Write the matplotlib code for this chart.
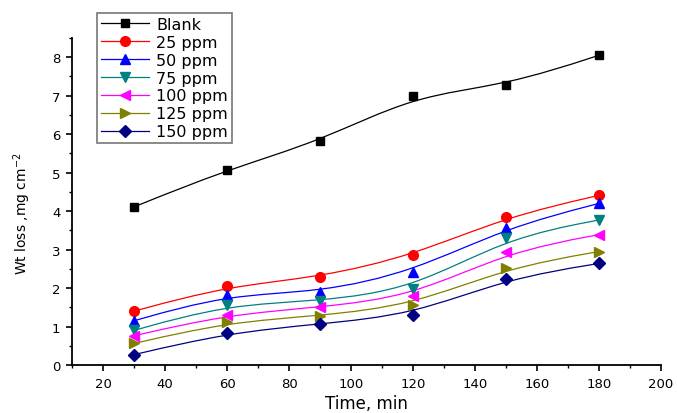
import numpy as np
import matplotlib
matplotlib.use('Agg')
import matplotlib.pyplot as plt
from matplotlib.path import Path
from matplotlib.patches import PathPatch
from matplotlib.lines import Line2D
from matplotlib.ticker import MultipleLocator

plt.rcParams['font.family'] = ['DejaVu Sans']

time = [30, 60, 90, 120, 150, 180]
blank = [4.11, 5.08, 5.81, 7.00, 7.27, 8.05]
ppm25 = [1.40, 2.05, 2.28, 2.85, 3.85, 4.41]
ppm50 = [1.15, 1.83, 1.89, 2.43, 3.57, 4.20]
ppm75 = [0.90, 1.57, 1.66, 1.98, 3.30, 3.77]
ppm100 = [0.76, 1.31, 1.50, 1.79, 2.93, 3.39]
ppm125 = [0.56, 1.11, 1.28, 1.56, 2.52, 2.95]
ppm150 = [0.27, 0.83, 1.07, 1.31, 2.24, 2.64]

labels = ['Blank', '25 ppm', '50 ppm', '75 ppm', '100 ppm', '125 ppm', '150 ppm']
series = [blank, ppm25, ppm50, ppm75, ppm100, ppm125, ppm150]
colors = ['black', 'red', 'blue', '#008080', 'magenta', '#808000', '#000080']
markers = ['s', 'o', '^', 'v', '<', '>', 'D']
msizes = [6, 7, 7.5, 7.5, 7.5, 7.5, 6]


def bspline_path(x, y):
    # clamped uniform cubic B-spline drawn as bezier segments (like Origin's B-spline connect)
    pts = [(x[0], y[0])] * 2 + list(zip(x, y)) + [(x[-1], y[-1])] * 2
    pts = np.array(pts, dtype=float)
    verts, codes = [], []
    for j in range(len(pts) - 3):
        q0, q1, q2, q3 = pts[j:j + 4]
        b0 = (q0 + 4 * q1 + q2) / 6
        b1 = (2 * q1 + q2) / 3
        b2 = (q1 + 2 * q2) / 3
        b3 = (q1 + 4 * q2 + q3) / 6
        if j == 0:
            verts.append(b0)
            codes.append(Path.MOVETO)
        verts += [b1, b2, b3]
        codes += [Path.CURVE4] * 3
    return Path(verts, codes)


fig = plt.figure(figsize=(6.77, 4.14), dpi=100)
ax = fig.add_axes([0.1064, 0.1159, 0.870, 0.790])

handles = []
for vals, lab, c, m, ms in zip(series, labels, colors, markers, msizes):
    ax.add_patch(PathPatch(bspline_path(time, vals), fill=False, edgecolor=c, lw=0.9))
    ax.plot(time, vals, ls='none', marker=m, color=c, ms=ms, zorder=3)
    handles.append(Line2D([], [], color=c, lw=0.9, marker=m, ms=ms, label=lab))

ax.set_xlim(10, 200)
ax.set_ylim(0, 8.5)
ax.xaxis.set_major_locator(MultipleLocator(20))
ax.xaxis.set_minor_locator(MultipleLocator(10))
ax.yaxis.set_major_locator(MultipleLocator(1))
ax.yaxis.set_minor_locator(MultipleLocator(0.5))
ax.tick_params(which='major', direction='out', length=4.3, width=1.2, labelsize=9.5, pad=4)
ax.tick_params(which='minor', direction='out', length=2.5, width=1.0)
ax.spines['top'].set_visible(False)
ax.spines['right'].set_visible(False)
ax.spines['left'].set_linewidth(1.3)
ax.spines['bottom'].set_linewidth(1.3)

ax.set_xlabel('Time, min', fontsize=12)
ax.xaxis.set_label_coords(0.50, -0.09)
ax.set_ylabel('Wt loss ,mg cm$^{-2}$', fontsize=10)
ax.yaxis.set_label_coords(-0.066, 0.465)

leg = fig.legend(handles=handles, loc='upper left', bbox_to_anchor=(97 / 677, 1 - 14 / 414),
                 fontsize=11.5, frameon=True, fancybox=False, edgecolor='#555555',
                 handlelength=3.0, handletextpad=0.45, labelspacing=0.18, borderpad=0.25,
                 borderaxespad=0)
leg.get_frame().set_linewidth(1.2)

plt.savefig('out.png', dpi=100)
